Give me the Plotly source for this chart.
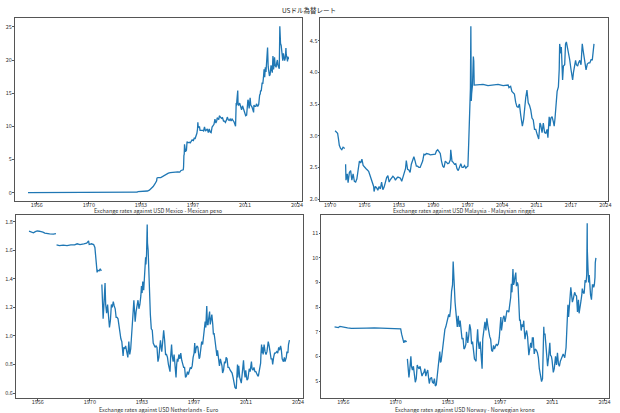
import datetime as dt
import plotly.graph_objects as go

# ---------------- data (date, value); None marks a gap ----------------
mexico = [
    ("1954-01", 0.0125), ("1976-08", 0.0125), ("1976-10", 0.020), ("1977-06", 0.0227),
    ("1981-12", 0.026), ("1982-03", 0.045), ("1982-09", 0.07), ("1982-12", 0.15),
    ("1983-06", 0.15), ("1983-12", 0.16), ("1984-06", 0.19), ("1984-12", 0.21),
    ("1985-06", 0.25), ("1985-12", 0.37), ("1986-06", 0.62), ("1986-12", 0.92),
    ("1987-06", 1.35), ("1987-11", 1.8), ("1987-12", 2.2), ("1988-03", 2.28),
    ("1988-12", 2.28), ("1989-06", 2.45), ("1989-12", 2.64), ("1990-06", 2.85),
    ("1990-12", 2.94), ("1991-06", 3.02), ("1991-12", 3.07), ("1992-06", 3.12),
    ("1993-06", 3.12), ("1993-12", 3.11), ("1994-04", 3.35), ("1994-11", 3.44),
    ("1994-12", 3.9), ("1995-01", 5.6), ("1995-02", 5.8), ("1995-03", 7.3),
    ("1995-04", 6.3), ("1995-06", 6.2), ("1995-09", 6.4), ("1995-11", 7.7),
    ("1995-12", 7.6), ("1996-03", 7.55), ("1996-06", 7.6), ("1996-09", 7.5),
    ("1996-12", 7.85), ("1997-03", 7.95), ("1997-07", 7.85), ("1997-10", 8.3),
    ("1997-12", 8.1), ("1998-03", 8.5), ("1998-06", 8.95), ("1998-08", 9.6),
    ("1998-09", 10.6), ("1998-10", 10.1), ("1998-12", 9.9), ("1999-02", 10.0),
    ("1999-04", 9.4), ("1999-07", 9.4), ("1999-09", 9.5), ("1999-12", 9.4),
    ("2000-03", 9.3), ("2000-06", 9.9), ("2000-09", 9.3), ("2000-12", 9.5),
    ("2001-03", 9.6), ("2001-06", 9.05), ("2001-09", 9.6), ("2001-12", 9.15),
    ("2002-03", 9.05), ("2002-06", 9.9), ("2002-09", 10.2), ("2002-12", 10.3),
    ("2003-03", 11.1), ("2003-06", 10.5), ("2003-09", 10.9), ("2003-10", 11.3),
    ("2003-12", 11.2), ("2004-03", 11.0), ("2004-05", 11.6), ("2004-08", 11.4),
    ("2004-12", 11.2), ("2005-03", 11.3), ("2005-06", 10.8), ("2005-09", 10.8),
    ("2005-12", 10.6), ("2006-03", 10.9), ("2006-06", 11.4), ("2006-09", 11.0),
    ("2006-12", 10.9), ("2007-03", 11.1), ("2007-06", 10.8), ("2007-09", 11.1),
    ("2007-12", 10.9), ("2008-03", 10.7), ("2008-06", 10.3), ("2008-08", 10.0),
    ("2008-10", 13.5), ("2008-11", 13.1), ("2008-12", 13.8), ("2009-02", 14.8),
    ("2009-03", 15.4), ("2009-04", 13.3), ("2009-06", 13.2), ("2009-09", 13.5),
    ("2009-12", 12.9), ("2010-03", 12.5), ("2010-06", 13.1), ("2010-09", 12.6),
    ("2010-12", 12.3), ("2011-04", 11.6), ("2011-07", 11.7), ("2011-09", 13.8),
    ("2011-11", 14.0), ("2011-12", 13.9), ("2012-03", 12.7), ("2012-06", 14.3),
    ("2012-08", 13.2), ("2012-12", 12.9), ("2013-03", 12.4), ("2013-05", 12.1),
    ("2013-06", 13.2), ("2013-09", 13.0), ("2013-12", 13.0), ("2014-02", 13.4),
    ("2014-06", 13.0), ("2014-09", 13.3), ("2014-12", 14.7), ("2015-02", 14.9),
    ("2015-03", 15.4), ("2015-05", 15.3), ("2015-08", 16.6), ("2015-10", 16.4),
    ("2015-12", 17.3), ("2016-02", 18.6), ("2016-04", 17.4), ("2016-06", 18.9),
    ("2016-08", 18.2), ("2016-09", 19.6), ("2016-10", 18.5), ("2016-11", 20.6),
    ("2017-01", 21.9), ("2017-03", 19.0), ("2017-05", 18.5), ("2017-07", 17.6),
    ("2017-09", 17.8), ("2017-12", 19.2), ("2018-02", 18.6), ("2018-04", 18.1),
    ("2018-06", 20.6), ("2018-08", 18.6), ("2018-10", 19.5), ("2018-11", 20.4),
    ("2019-01", 19.2), ("2019-04", 18.9), ("2019-06", 19.6), ("2019-08", 20.0),
    ("2019-10", 19.2), ("2019-12", 18.9), ("2020-02", 18.7), ("2020-03-23", 25.1),
    ("2020-04", 24.0), ("2020-05", 22.5), ("2020-06", 22.5), ("2020-08", 22.2),
    ("2020-10", 21.2), ("2020-11", 20.2), ("2021-01", 19.9), ("2021-03", 21.0),
    ("2021-05", 19.9), ("2021-07", 19.9), ("2021-09", 20.3), ("2021-11", 21.8),
    ("2021-12", 20.8), ("2022-02", 20.4), ("2022-04", 19.8), ("2022-05", 20.4),
    ("2022-06", 20.5), ("2022-07", 20.1),
]

malaysia = [
    ("1971-01", 3.08), ("1971-04", 3.06), ("1971-07", 3.04), ("1971-09", 2.95),
    ("1971-11", 2.85), ("1972-02", 2.8), ("1972-05", 2.78), ("1972-08", 2.82),
    ("1972-12", 2.8), ("1973-01", None), ("1973-02", 2.55), ("1973-03", 2.3),
    ("1973-06", 2.4), ("1973-08", 2.26), ("1973-11", 2.42), ("1974-02", 2.45),
    ("1974-05", 2.3), ("1974-08", 2.4), ("1974-11", 2.28), ("1975-02", 2.27),
    ("1975-05", 2.32), ("1975-08", 2.5), ("1975-11", 2.6), ("1976-02", 2.57),
    ("1976-05", 2.63), ("1976-08", 2.53), ("1976-11", 2.5), ("1977-03", 2.48),
    ("1977-06", 2.46), ("1977-09", 2.44), ("1977-12", 2.38), ("1978-03", 2.33),
    ("1978-06", 2.26), ("1978-09", 2.2), ("1978-10", 2.12), ("1979-01", 2.2),
    ("1979-04", 2.18), ("1979-07", 2.14), ("1979-10", 2.2), ("1980-01", 2.16),
    ("1980-04", 2.27), ("1980-07", 2.15), ("1980-10", 2.19), ("1981-01", 2.28),
    ("1981-04", 2.34), ("1981-07", 2.37), ("1981-10", 2.27), ("1982-01", 2.31),
    ("1982-04", 2.34), ("1982-07", 2.36), ("1982-10", 2.34), ("1983-01", 2.3),
    ("1983-04", 2.33), ("1983-07", 2.35), ("1983-10", 2.34), ("1984-01", 2.33),
    ("1984-04", 2.28), ("1984-07", 2.35), ("1984-10", 2.45), ("1985-01", 2.48),
    ("1985-03", 2.61), ("1985-06", 2.47), ("1985-09", 2.46), ("1985-12", 2.42),
    ("1986-03", 2.55), ("1986-06", 2.62), ("1986-09", 2.67), ("1986-12", 2.6),
    ("1987-03", 2.52), ("1987-06", 2.52), ("1987-09", 2.5), ("1987-12", 2.5),
    ("1988-03", 2.56), ("1988-06", 2.6), ("1988-09", 2.71), ("1988-12", 2.7),
    ("1989-03", 2.72), ("1989-06", 2.72), ("1989-09", 2.71), ("1989-12", 2.7),
    ("1990-03", 2.7), ("1990-06", 2.71), ("1990-09", 2.7), ("1990-12", 2.71),
    ("1991-03", 2.76), ("1991-06", 2.78), ("1991-09", 2.75), ("1991-12", 2.72),
    ("1992-03", 2.6), ("1992-06", 2.52), ("1992-09", 2.5), ("1992-12", 2.6),
    ("1993-03", 2.58), ("1993-06", 2.56), ("1993-09", 2.57), ("1993-12", 2.62),
    ("1994-01", 2.78), ("1994-04", 2.6), ("1994-07", 2.58), ("1994-10", 2.55),
    ("1995-01", 2.56), ("1995-04", 2.48), ("1995-07", 2.45), ("1995-10", 2.52),
    ("1996-01", 2.56), ("1996-04", 2.5), ("1996-07", 2.5), ("1996-10", 2.53),
    ("1997-01", 2.49), ("1997-04", 2.51), ("1997-06", 2.52), ("1997-08", 2.9),
    ("1997-10", 3.3), ("1997-12", 3.75), ("1998-01", 4.73), ("1998-02", 3.55),
    ("1998-03", 3.67), ("1998-05", 3.8), ("1998-06", 4.05), ("1998-07", 4.25),
    ("1998-08", 4.18), ("1998-09", 3.8), ("1999-06", 3.8), ("2000-06", 3.81),
    ("2001-06", 3.79), ("2002-06", 3.8), ("2003-06", 3.81), ("2004-06", 3.79),
    ("2005-06", 3.8), ("2005-08", 3.76), ("2005-12", 3.78), ("2006-03", 3.7),
    ("2006-06", 3.68), ("2006-09", 3.66), ("2006-12", 3.53), ("2007-03", 3.46),
    ("2007-06", 3.45), ("2007-09", 3.5), ("2007-12", 3.33), ("2008-03", 3.2),
    ("2008-04", 3.15), ("2008-07", 3.26), ("2008-10", 3.5), ("2008-12", 3.6),
    ("2009-03", 3.72), ("2009-06", 3.52), ("2009-09", 3.48), ("2009-12", 3.41),
    ("2010-03", 3.28), ("2010-06", 3.25), ("2010-09", 3.1), ("2010-12", 3.1),
    ("2011-03", 3.03), ("2011-05", 3.0), ("2011-07", 2.95), ("2011-10", 3.2),
    ("2011-12", 3.17), ("2012-03", 3.05), ("2012-06", 3.2), ("2012-09", 3.05),
    ("2012-12", 3.04), ("2013-03", 3.1), ("2013-05", 2.97), ("2013-08", 3.3),
    ("2013-10", 3.15), ("2013-12", 3.28), ("2014-03", 3.3), ("2014-06", 3.22),
    ("2014-08", 3.15), ("2014-10", 3.28), ("2014-12", 3.5), ("2015-03", 3.7),
    ("2015-06", 3.77), ("2015-08", 4.05), ("2015-09", 4.45), ("2015-11", 4.3),
    ("2015-12", 4.3), ("2016-01", 4.4), ("2016-03", 4.05), ("2016-04", 3.88),
    ("2016-06", 4.1), ("2016-09", 4.12), ("2016-11", 4.45), ("2017-01", 4.48),
    ("2017-04", 4.38), ("2017-07", 4.28), ("2017-09", 4.2), ("2017-12", 4.05),
    ("2018-02", 3.92), ("2018-04", 3.88), ("2018-06", 4.0), ("2018-09", 4.14),
    ("2018-11", 4.19), ("2019-01", 4.12), ("2019-04", 4.1), ("2019-06", 4.15),
    ("2019-09", 4.19), ("2019-12", 4.12), ("2020-03", 4.45), ("2020-05", 4.35),
    ("2020-08", 4.2), ("2020-12", 4.04), ("2021-03", 4.13), ("2021-06", 4.15),
    ("2021-09", 4.15), ("2021-12", 4.2), ("2022-03", 4.2), ("2022-05", 4.4),
    ("2022-07", 4.45),
]

netherlands = [
    ("1954-01", 1.733), ("1954-09", 1.726), ("1955-03", 1.722), ("1955-09", 1.73),
    ("1956-03", 1.735), ("1956-09", 1.733), ("1957-03", 1.732), ("1957-09", 1.727),
    ("1958-03", 1.72), ("1958-09", 1.716), ("1959-06", 1.714), ("1960-06", 1.713),
    ("1961-02", 1.716), ("1961-03", None), ("1961-04", 1.637), ("1962-01", 1.632),
    ("1963-01", 1.636), ("1964-01", 1.633), ("1965-01", 1.638), ("1966-01", 1.637),
    ("1966-09", 1.645), ("1967-06", 1.64), ("1968-06", 1.645), ("1969-03", 1.65),
    ("1969-09", 1.665), ("1969-11", 1.64), ("1970-06", 1.645), ("1971-01", 1.64),
    ("1971-05", 1.62), ("1971-08", 1.55), ("1971-11", 1.50), ("1971-12", 1.445),
    ("1972-02", 1.46), ("1972-06", 1.455), ("1972-10", 1.47), ("1973-01", 1.455),
    ("1973-02", None), ("1973-03", 1.36), ("1973-05", 1.24), ("1973-07", 1.12),
    ("1973-09", 1.2), ("1973-11", 1.28), ("1974-01", 1.37), ("1974-03", 1.22),
    ("1974-06", 1.16), ("1974-09", 1.22), ("1974-12", 1.15), ("1975-03", 1.06),
    ("1975-06", 1.11), ("1975-09", 1.22), ("1975-12", 1.2), ("1976-03", 1.24),
    ("1976-06", 1.21), ("1976-09", 1.19), ("1976-12", 1.13), ("1977-03", 1.13),
    ("1977-06", 1.12), ("1977-09", 1.06), ("1977-12", 1.04), ("1978-03", 0.98),
    ("1978-06", 0.96), ("1978-08", 0.91), ("1978-10", 0.86), ("1978-12", 0.92),
    ("1979-03", 0.91), ("1979-06", 0.93), ("1979-09", 0.88), ("1979-12", 0.87),
    ("1980-01", 0.85), ("1980-04", 0.96), ("1980-07", 0.87), ("1980-10", 0.91),
    ("1980-12", 0.97), ("1981-03", 1.02), ("1981-06", 1.18), ("1981-08", 1.25),
    ("1981-10", 1.1), ("1981-12", 1.1), ("1982-03", 1.17), ("1982-06", 1.22),
    ("1982-09", 1.25), ("1982-12", 1.19), ("1983-03", 1.22), ("1983-06", 1.28),
    ("1983-08", 1.35), ("1983-10", 1.3), ("1983-12", 1.38), ("1984-03", 1.32),
    ("1984-06", 1.43), ("1984-09", 1.55), ("1984-10", 1.5), ("1984-12", 1.57),
    ("1985-02", 1.78), ("1985-03", 1.65), ("1985-05", 1.6), ("1985-07", 1.45),
    ("1985-09", 1.38), ("1985-12", 1.15), ("1986-03", 1.05), ("1986-06", 1.04),
    ("1986-09", 0.95), ("1986-12", 0.93), ("1987-03", 0.92), ("1987-06", 0.93),
    ("1987-09", 0.92), ("1987-12", 0.82), ("1988-03", 0.85), ("1988-06", 0.93),
    ("1988-08", 0.97), ("1988-10", 0.92), ("1988-12", 0.89), ("1989-03", 0.96),
    ("1989-06", 1.04), ("1989-09", 0.97), ("1989-12", 0.87), ("1990-03", 0.87),
    ("1990-06", 0.85), ("1990-09", 0.8), ("1990-12", 0.76), ("1991-02", 0.75),
    ("1991-04", 0.85), ("1991-07", 0.94), ("1991-09", 0.86), ("1991-12", 0.82),
    ("1992-03", 0.87), ("1992-06", 0.8), ("1992-09", 0.71), ("1992-11", 0.8),
    ("1993-01", 0.84), ("1993-03", 0.82), ("1993-06", 0.87), ("1993-09", 0.84),
    ("1993-12", 0.88), ("1994-03", 0.83), ("1994-06", 0.8), ("1994-09", 0.78),
    ("1994-12", 0.78), ("1995-03", 0.71), ("1995-06", 0.72), ("1995-09", 0.75),
    ("1995-12", 0.73), ("1996-03", 0.76), ("1996-06", 0.78), ("1996-09", 0.77),
    ("1996-12", 0.79), ("1997-03", 0.85), ("1997-06", 0.88), ("1997-08", 0.95),
    ("1997-10", 0.88), ("1997-12", 0.91), ("1998-03", 0.93), ("1998-06", 0.92),
    ("1998-09", 0.86), ("1998-10", 0.84), ("1998-12", 0.85), ("1999-03", 0.92),
    ("1999-06", 0.96), ("1999-09", 0.94), ("1999-12", 0.99), ("2000-03", 1.04),
    ("2000-05", 1.1), ("2000-07", 1.06), ("2000-10", 1.21), ("2000-12", 1.08),
    ("2001-02", 1.08), ("2001-04", 1.12), ("2001-07", 1.17), ("2001-09", 1.08),
    ("2001-12", 1.12), ("2002-02", 1.15), ("2002-05", 1.08), ("2002-07", 1.01),
    ("2002-09", 1.02), ("2002-12", 0.97), ("2003-03", 0.92), ("2003-06", 0.86),
    ("2003-08", 0.9), ("2003-10", 0.85), ("2003-12", 0.8), ("2004-02", 0.79),
    ("2004-05", 0.84), ("2004-08", 0.82), ("2004-10", 0.79), ("2004-12", 0.74),
    ("2005-03", 0.76), ("2005-06", 0.82), ("2005-09", 0.81), ("2005-11", 0.85),
    ("2006-02", 0.84), ("2006-05", 0.78), ("2006-08", 0.78), ("2006-12", 0.76),
    ("2007-03", 0.75), ("2007-06", 0.74), ("2007-09", 0.71), ("2007-11", 0.68),
    ("2008-03", 0.64), ("2008-07", 0.63), ("2008-10", 0.78), ("2008-11", 0.8),
    ("2008-12", 0.71), ("2009-03", 0.79), ("2009-06", 0.71), ("2009-09", 0.68),
    ("2009-11", 0.67), ("2010-02", 0.74), ("2010-06", 0.83), ("2010-08", 0.76),
    ("2010-11", 0.71), ("2011-01", 0.76), ("2011-05", 0.69), ("2011-08", 0.7),
    ("2011-10", 0.75), ("2011-12", 0.77), ("2012-03", 0.75), ("2012-07", 0.82),
    ("2012-09", 0.77), ("2012-12", 0.76), ("2013-03", 0.78), ("2013-06", 0.75),
    ("2013-09", 0.75), ("2013-12", 0.73), ("2014-03", 0.72), ("2014-05", 0.72),
    ("2014-09", 0.78), ("2014-12", 0.81), ("2015-01", 0.87), ("2015-03", 0.94),
    ("2015-05", 0.88), ("2015-07", 0.92), ("2015-08", 0.87), ("2015-11", 0.94),
    ("2016-02", 0.89), ("2016-05", 0.87), ("2016-08", 0.89), ("2016-11", 0.93),
    ("2016-12", 0.96), ("2017-03", 0.93), ("2017-06", 0.89), ("2017-09", 0.84),
    ("2017-12", 0.84), ("2018-02", 0.8), ("2018-05", 0.85), ("2018-08", 0.88),
    ("2018-11", 0.88), ("2019-03", 0.89), ("2019-06", 0.88), ("2019-09", 0.92),
    ("2019-12", 0.9), ("2020-03", 0.93), ("2020-05", 0.91), ("2020-08", 0.84),
    ("2020-12", 0.82), ("2021-03", 0.85), ("2021-05", 0.82), ("2021-09", 0.85),
    ("2021-11", 0.89), ("2022-02", 0.88), ("2022-04", 0.94), ("2022-05", 0.95),
    ("2022-06", 0.94), ("2022-07", 0.97),
]

norway = [
    ("1954-01", 7.2), ("1955-01", 7.17), ("1955-06", 7.22), ("1956-06", 7.18),
    ("1957-06", 7.16), ("1958-06", 7.14), ("1959-06", 7.15), ("1960-06", 7.15),
    ("1961-06", 7.14), ("1962-06", 7.15), ("1964-06", 7.16), ("1966-06", 7.15),
    ("1968-06", 7.15), ("1970-06", 7.14), ("1971-05", 7.12), ("1971-08", 6.9),
    ("1971-10", 6.75), ("1971-12", 6.6), ("1972-03", 6.55), ("1972-06", 6.65),
    ("1972-09", 6.6), ("1972-12", 6.62), ("1973-01", None), ("1973-02", 5.9),
    ("1973-05", 5.5), ("1973-07", 5.15), ("1973-09", 5.4), ("1973-12", 5.75),
    ("1974-01", 6.0), ("1974-03", 5.6), ("1974-06", 5.45), ("1974-09", 5.6),
    ("1974-12", 5.3), ("1975-03", 4.95), ("1975-06", 5.1), ("1975-09", 5.65),
    ("1975-12", 5.55), ("1976-03", 5.5), ("1976-06", 5.6), ("1976-09", 5.45),
    ("1976-12", 5.2), ("1977-03", 5.3), ("1977-06", 5.35), ("1977-09", 5.5),
    ("1977-12", 5.2), ("1978-03", 5.35), ("1978-06", 5.45), ("1978-09", 5.1),
    ("1978-11", 4.9), ("1979-02", 5.1), ("1979-06", 5.15), ("1979-09", 4.95),
    ("1979-12", 4.92), ("1980-03", 5.1), ("1980-06", 4.8), ("1980-09", 4.85),
    ("1980-12", 5.3), ("1981-03", 5.7), ("1981-06", 5.9), ("1981-08", 6.2),
    ("1981-10", 5.75), ("1981-12", 5.8), ("1982-03", 6.1), ("1982-06", 6.4),
    ("1982-09", 6.9), ("1982-12", 7.1), ("1983-03", 7.2), ("1983-06", 7.35),
    ("1983-09", 7.55), ("1983-12", 7.7), ("1984-03", 7.6), ("1984-06", 7.95),
    ("1984-09", 8.65), ("1984-12", 8.9), ("1985-02", 9.85), ("1985-04", 9.0),
    ("1985-06", 8.7), ("1985-08", 8.2), ("1985-10", 7.9), ("1985-12", 7.6),
    ("1986-03", 7.2), ("1986-06", 7.65), ("1986-09", 7.2), ("1986-12", 7.45),
    ("1987-03", 6.95), ("1987-06", 6.7), ("1987-09", 6.75), ("1987-12", 6.3),
    ("1988-03", 6.35), ("1988-06", 6.5), ("1988-08", 7.0), ("1988-10", 6.75),
    ("1988-12", 6.55), ("1989-03", 6.85), ("1989-06", 7.3), ("1989-09", 7.1),
    ("1989-12", 6.5), ("1990-03", 6.6), ("1990-06", 6.3), ("1990-09", 5.9),
    ("1990-12", 5.85), ("1991-02", 5.8), ("1991-04", 6.5), ("1991-07", 7.1),
    ("1991-09", 6.6), ("1991-12", 6.3), ("1992-03", 6.6), ("1992-06", 6.1),
    ("1992-09", 5.5), ("1992-11", 6.7), ("1993-01", 6.9), ("1993-03", 7.1),
    ("1993-06", 7.4), ("1993-09", 7.05), ("1993-12", 7.55), ("1994-03", 7.25),
    ("1994-06", 6.95), ("1994-09", 6.8), ("1994-12", 6.7), ("1995-03", 6.25),
    ("1995-06", 6.2), ("1995-09", 6.45), ("1995-12", 6.3), ("1996-03", 6.45),
    ("1996-06", 6.5), ("1996-09", 6.45), ("1996-12", 6.5), ("1997-03", 6.75),
    ("1997-06", 7.25), ("1997-08", 7.6), ("1997-10", 7.05), ("1997-12", 7.35),
    ("1998-03", 7.55), ("1998-06", 7.65), ("1998-09", 7.4), ("1998-12", 7.6),
    ("1999-03", 7.85), ("1999-06", 7.85), ("1999-09", 7.8), ("1999-12", 8.1),
    ("2000-03", 8.4), ("2000-05", 8.95), ("2000-07", 8.6), ("2000-10", 9.55),
    ("2000-12", 8.9), ("2001-02", 9.0), ("2001-04", 9.2), ("2001-07", 9.4),
    ("2001-09", 8.85), ("2001-12", 9.0), ("2002-02", 8.9), ("2002-05", 8.1),
    ("2002-07", 7.45), ("2002-09", 7.5), ("2002-12", 7.05), ("2003-03", 7.3),
    ("2003-06", 7.2), ("2003-08", 7.45), ("2003-10", 7.0), ("2003-12", 6.7),
    ("2004-02", 6.9), ("2004-05", 7.05), ("2004-08", 6.8), ("2004-10", 6.4),
    ("2004-12", 6.05), ("2005-03", 6.3), ("2005-06", 6.55), ("2005-09", 6.35),
    ("2005-11", 6.75), ("2006-02", 6.75), ("2006-05", 6.1), ("2006-08", 6.3),
    ("2006-12", 6.25), ("2007-03", 6.15), ("2007-06", 5.95), ("2007-09", 5.5),
    ("2007-11", 5.35), ("2008-03", 5.15), ("2008-04", 4.98), ("2008-07", 5.1),
    ("2008-10", 6.6), ("2008-11", 7.2), ("2008-12", 6.9), ("2009-03", 6.9),
    ("2009-06", 6.3), ("2009-09", 5.8), ("2009-11", 5.6), ("2010-02", 5.95),
    ("2010-06", 6.55), ("2010-08", 6.05), ("2010-11", 6.0), ("2011-01", 5.85),
    ("2011-05", 5.35), ("2011-08", 5.5), ("2011-10", 5.85), ("2011-12", 6.0),
    ("2012-03", 5.65), ("2012-06", 6.15), ("2012-09", 5.7), ("2012-12", 5.6),
    ("2013-03", 5.8), ("2013-06", 5.95), ("2013-09", 6.0), ("2013-12", 6.1),
    ("2014-03", 5.95), ("2014-05", 5.95), ("2014-09", 6.35), ("2014-12", 7.45),
    ("2015-01", 7.6), ("2015-03", 8.1), ("2015-05", 7.6), ("2015-07", 8.1),
    ("2015-09", 8.3), ("2015-11", 8.6), ("2015-12", 8.8), ("2016-02", 8.55),
    ("2016-05", 8.2), ("2016-08", 8.35), ("2016-11", 8.5), ("2016-12", 8.6),
    ("2017-03", 8.5), ("2017-06", 8.45), ("2017-09", 7.8), ("2017-12", 8.3),
    ("2018-02", 7.75), ("2018-05", 8.15), ("2018-08", 8.25), ("2018-11", 8.55),
    ("2018-12", 8.75), ("2019-03", 8.6), ("2019-06", 8.55), ("2019-09", 9.1),
    ("2019-12", 9.0), ("2020-02", 9.3), ("2020-03-19", 11.4), ("2020-04", 10.3),
    ("2020-06", 9.6), ("2020-08", 9.0), ("2020-10", 9.3), ("2020-12", 8.6),
    ("2021-02", 8.5), ("2021-05", 8.3), ("2021-08", 8.9), ("2021-11", 8.9),
    ("2021-12", 8.8), ("2022-02", 8.9), ("2022-04", 9.2), ("2022-05", 9.8),
    ("2022-06", 9.9), ("2022-07", 10.0),
]

titles = [
    "Exchange rates against USD Mexico - Mexican peso",
    "Exchange rates against USD Malaysia - Malaysian ringgit",
    "Exchange rates against USD Netherlands - Euro",
    "Exchange rates against USD Norway - Norwegian krone",
]
main_title = "USドル為替レート"

# tick days (since 1970-01-01) and labels
wide_tick_days = [-5000, 0, 5000, 10000, 15000, 20000]
wide_tick_text = ["1956", "1970", "1983", "1997", "2011", "2024"]
my_tick_days = [0, 2500, 5000, 7500, 10000, 12500, 15000, 17500, 20000]
my_tick_text = ["1970", "1976", "1983", "1990", "1997", "2004", "2011", "2017", "2024"]

mx_yticks = [0, 5, 10, 15, 20, 25]
my_yticks = [2.0, 2.5, 3.0, 3.5, 4.0, 4.5]
nl_yticks = [0.6, 0.8, 1.0, 1.2, 1.4, 1.6, 1.8]
no_yticks = [5, 6, 7, 8, 9, 10, 11]

# ---------------- figure ----------------
W, H = 620, 413
EPOCH = dt.datetime(1970, 1, 1)


def day(n):
    return (EPOCH + dt.timedelta(days=n)).strftime("%Y-%m-%d")


FONT = "Noto Sans CJK JP, Noto Sans, sans-serif"
BLUE = "#1f77b4"

panels = [
    dict(data=mexico, px=(15, 303), py=(18, 202), xr=(-7100, 20430), yr=(-1.26, 26.35),
         tv=wide_tick_days, tt=wide_tick_text, yt=mx_yticks, yfmt="{:.0f}", ty=212.5),
    dict(data=malaysia, px=(322, 611), py=(18, 202), xr=(-701, 20195), yr=(1.97, 4.86),
         tv=my_tick_days, tt=my_tick_text, yt=my_yticks, yfmt="{:.1f}", ty=212.5),
    dict(data=netherlands, px=(16, 304), py=(216, 400), xr=(-7100, 20430), yr=(0.565, 1.847),
         tv=wide_tick_days, tt=wide_tick_text, yt=nl_yticks, yfmt="{:.1f}", ty=411.5),
    dict(data=norway, px=(323, 612), py=(216, 400), xr=(-7100, 20430), yr=(4.31, 11.74),
         tv=wide_tick_days, tt=wide_tick_text, yt=no_yticks, yfmt="{:.0f}", ty=411.5),
]

fig = go.Figure()
layout = {}
annotations = []
for i, p in enumerate(panels, start=1):
    xs = [d for d, _ in p["data"]]
    ys = [v for _, v in p["data"]]
    sx = "" if i == 1 else str(i)
    fig.add_trace(go.Scatter(x=xs, y=ys, mode="lines", xaxis="x" + sx, yaxis="y" + sx,
                             line=dict(color=BLUE, width=1.3), showlegend=False,
                             connectgaps=False))
    axis_common = dict(showline=True, linecolor="#555", linewidth=0.8, mirror=True,
                       showgrid=False, zeroline=False, ticks="outside", ticklen=2,
                       tickwidth=0.6, tickcolor="#555",
                       tickfont=dict(family=FONT, size=5.5, color="#333"))
    layout["xaxis" + sx] = dict(
        axis_common, type="date", domain=[p["px"][0] / W, p["px"][1] / W],
        anchor="y" + sx, range=[day(p["xr"][0]), day(p["xr"][1])],
        tickmode="array", tickvals=[day(t) for t in p["tv"]], ticktext=p["tt"],
        ticklabelstandoff=-4)
    layout["yaxis" + sx] = dict(
        axis_common, domain=[1 - p["py"][1] / H, 1 - p["py"][0] / H],
        anchor="x" + sx, range=list(p["yr"]), tickmode="array",
        tickvals=p["yt"], ticktext=[p["yfmt"].format(v) for v in p["yt"]],
        ticklabelstandoff=-1)
    annotations.append(dict(
        text=titles[i - 1], xref="paper", yref="paper", showarrow=False,
        x=(p["px"][0] + p["px"][1]) / 2 / W, y=1 - p["ty"] / H,
        xanchor="center", yanchor="middle",
        font=dict(family=FONT, size=5.5, color="#333")))

annotations.append(dict(text=main_title, xref="paper", yref="paper", showarrow=False,
                        x=0.5, y=1 - 10.5 / H, xanchor="center", yanchor="middle",
                        font=dict(family=FONT, size=6.5, color="#222")))

fig.update_layout(
    width=W, height=H, margin=dict(l=0, r=0, t=0, b=0),
    paper_bgcolor="white", plot_bgcolor="white",
    annotations=annotations, **layout)

fig.write_html("out.html", config={"displayModeBar": False},
               post_script="document.body.style.margin='0px';"
                           "document.body.style.overflow='hidden';")
